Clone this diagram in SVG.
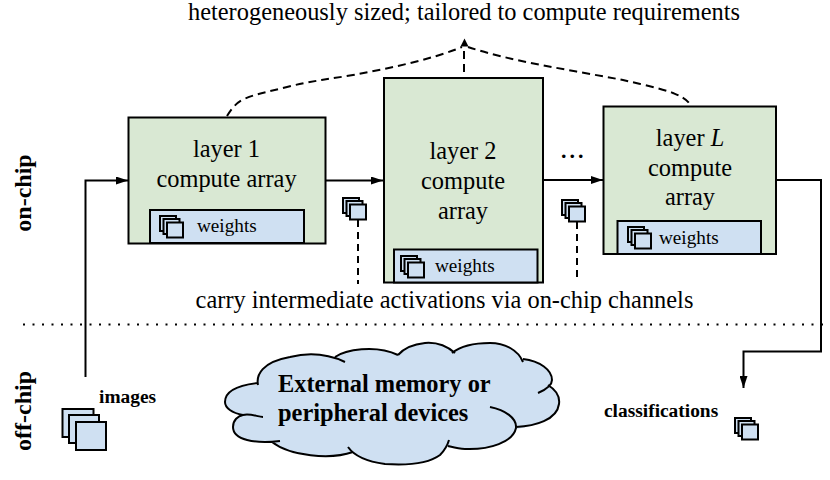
<svg xmlns="http://www.w3.org/2000/svg" width="830" height="480" viewBox="0 0 830 480">
<style>
text{font-family:"Liberation Serif","Times New Roman",serif;fill:#000}
.t{font-size:24.400px;text-anchor:middle}
.w{font-size:19.200px}
.s{font-weight:bold;font-size:19.400px}
.v{font-weight:bold;font-size:24px;text-anchor:middle}
.e{font-weight:bold;font-size:24.400px}
.a{fill:#d9e8d3;stroke:#000;stroke-width:2}
.m{fill:#cfe0f2;stroke:#000;stroke-width:2}
.c{fill:none;stroke:#000;stroke-width:2}
.d{fill:none;stroke:#000;stroke-width:2;stroke-dasharray:8 5}
</style>
<defs>
<marker id="arr" markerUnits="userSpaceOnUse" markerWidth="12" markerHeight="8" refX="12" refY="4" orient="auto"><path d="M0 0L12 4L0 8Z"/></marker>
<!-- stack of three small sheets, reused for weights and activations -->
<g id="st"><rect class="m" x="1" y="1" width="16" height="15"/><rect class="m" x="4.500" y="4" width="16" height="15"/><rect class="m" x="8" y="7.500" width="16" height="15"/></g>
</defs>
<text class="t" x="464" y="20">heterogeneously sized; tailored to compute requirements</text>
<text class="v" transform="translate(31 193) rotate(-90)">on-chip</text>
<text class="v" transform="translate(31 411) rotate(-90)">off-chip</text>
<g id="connectors">
<path class="d" d="M227 116C232 108 236 103 244 99C258 93 272 91 287 87C310 81 330 79 353 75C390 68 430 60 462 47"/>
<path class="d" d="M468 47C510 61 570 70 623 80C640 84 660 88 673 93C680 96 685 98 689 103"/>
<path class="d" d="M464 72V45"/>
<path d="M464.500 38.500L468.500 46.500H460.500Z"/>
<path class="c" marker-end="url(#arr)" d="M85.500 377V180.500H128"/>
<path class="c" marker-end="url(#arr)" d="M326 180.500H383"/>
<path class="c" marker-end="url(#arr)" d="M543 180H603"/>
<path class="c" marker-end="url(#arr)" d="M776 180H821V351.500H743.500V388"/>
<path class="d" style="stroke-dasharray:7 5" d="M358 220V284"/>
<path class="d" style="stroke-dasharray:7 5" d="M577 222V282"/>
<path fill="none" stroke="#000" stroke-width="2" stroke-dasharray="2 7.500" d="M23 324.500H826"/>
</g>
<g id="layer1"><rect class="a" x="128.500" y="117.500" width="197" height="126"/>
<text class="t" x="226.500" y="157">layer 1</text><text class="t" x="226.500" y="187">compute array</text>
<rect class="m" x="150" y="210" width="154" height="33"/><use href="#st" x="159" y="215"/><text class="w" x="197" y="232">weights</text></g>
<g id="layer2"><rect class="a" x="384" y="78" width="159" height="204.500"/>
<text class="t" x="463" y="159">layer 2</text><text class="t" x="463" y="189">compute</text><text class="t" x="463" y="219">array</text>
<rect class="m" x="394" y="249.500" width="143.500" height="33"/><use href="#st" x="400" y="255"/><text class="w" x="435" y="272">weights</text></g>
<g id="layerL"><rect class="a" x="603.500" y="106.500" width="172.500" height="147.500"/>
<text class="t" x="690" y="146">layer <tspan font-style="italic">L</tspan></text><text class="t" x="690" y="176">compute</text><text class="t" x="690" y="205">array</text>
<rect class="m" x="617.500" y="221" width="143.500" height="33"/><use href="#st" x="627" y="226"/><text class="w" x="659" y="244">weights</text></g>
<text x="560" y="158" letter-spacing="1" style="font-size:30px">...</text>
<g id="activations-a"><use href="#st" x="342" y="197"/></g>
<g id="activations-b"><use href="#st" x="561" y="199"/></g>
<text class="t" x="444.500" y="308">carry intermediate activations via on-chip channels</text>
<g id="memory">
<path fill="#cfe0f2" d="M258 385C256 375 262 362 290 357C305 354 322 354 335 357C345 350 375 344 398 355C405 347 415 344 425 343C437 342 448 347 453 353C462 345 478 343 490 343C505 343 518 350 523 360C540 361 552 370 552 380C552 382 550 384 548 385C556 390 560 397 559 404C557 420 535 426 516 429C513 442 490 450 465 449C458 449 452 447 446 447C444 451 442 453 440 455C425 466 400 465 385 464C370 462 358 457 353 452C330 460 290 456 272 442C255 444 233 440 233 427C233 420 238 416 243 415C232 413 225 408 225 402C225 390 240 385 258 385Z"/>
<path class="c" d="M258 385C256 375 262 362 290 357C310 352 330 355 345 362M335 357C345 350 375 344 398 355M398 355C405 347 415 344 425 343C437 342 448 347 455 353M452 353C462 345 478 343 490 343C505 343 518 350 523 362M523 359C540 361 552 370 552 380C552 385 545 390 538 393M548 385C556 390 560 397 559 404C557 420 535 426 516 427M490 407C505 410 517 418 516 428C513 442 490 450 465 449C458 449 452 447 448 446M449 440C447 447 444 451 440 455C425 466 400 465 385 464C370 462 355 457 348 447M353 452C330 460 290 456 272 442M280 441C255 444 233 440 233 427C233 420 238 416 243 415C250 413 258 417 263 417M243 415C232 413 225 408 225 402C225 390 240 385 258 383"/>
<text class="e" x="278" y="392">External memory or</text><text class="e" x="278" y="421">peripheral devices</text></g>
<g id="images"><rect class="m" x="62.500" y="409" width="31" height="28"/><rect class="m" x="69" y="415" width="30" height="28"/><rect class="m" x="76" y="422" width="30" height="28"/><text class="s" x="99" y="403">images</text></g>
<g id="classifications"><use href="#st" x="734" y="417"/><text class="s" x="604" y="417">classifications</text></g>
</svg>
